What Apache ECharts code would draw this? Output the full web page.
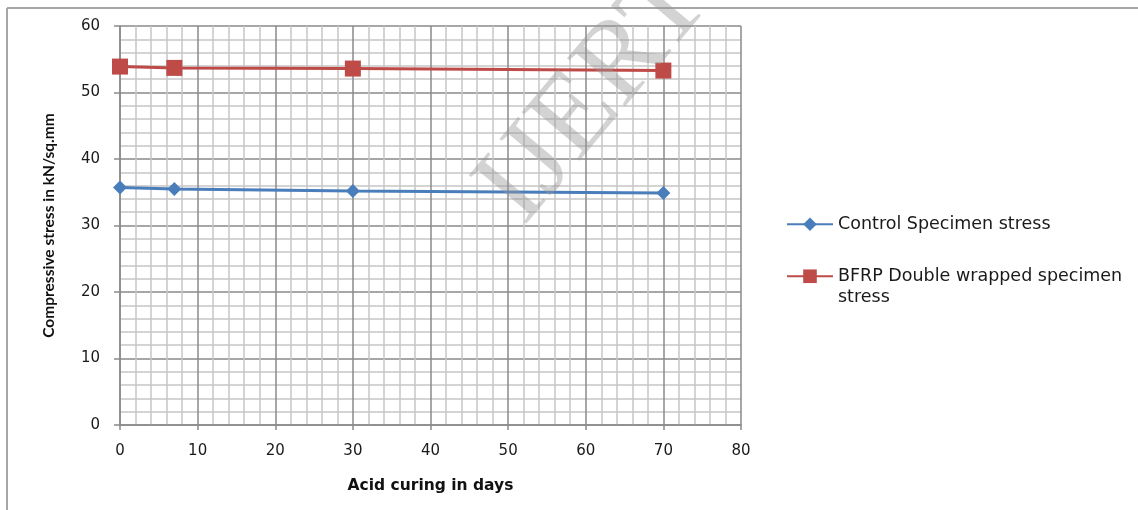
<!DOCTYPE html>
<html>
<head>
<meta charset="utf-8">
<script src="https://cdn.jsdelivr.net/npm/echarts@6/dist/echarts.min.js"></script>
<style>
html,body{margin:0;padding:0;background:#fff;}
#chart{width:1138px;height:510px;}
</style>
</head>
<body>
<div id="chart"></div>
<script>
const xValues = [0, 7, 30, 70];
const controlStress = [35.7, 35.5, 35.2, 34.9];
const bfrpStress = [53.9, 53.7, 53.6, 53.3];
const seriesNames = ['Control Specimen stress', 'BFRP Double wrapped specimen stress'];
const xTitle = 'Acid curing in days';
const yTitle = 'Compressive stress in kN/sq.mm';

const chart = echarts.init(document.getElementById('chart'), null, {renderer: 'canvas'});

function pairs(vals) { return xValues.map((x, i) => [x, vals[i]]); }

const axisCommon = {
  type: 'value',
  interval: 10,
  axisLine: {show: true, lineStyle: {color: '#8a8a8a', width: 1.5}},
  axisTick: {show: true, lineStyle: {color: '#8a8a8a', width: 1.5}},
  splitLine: {show: true, lineStyle: {color: '#8a8a8a', width: 1.5}},
  minorTick: {show: false, splitNumber: 5},
  minorSplitLine: {show: true, lineStyle: {color: '#c6c6c6', width: 1.5}},
  axisLabel: {fontFamily: 'DejaVu Sans', fontSize: 15, color: '#1a1a1a'}
};

const option = {
  backgroundColor: '#fff',
  animation: false,
  grid: {left: 120, top: 26, width: 621, height: 399, containLabel: false},
  xAxis: Object.assign({}, axisCommon, {
    min: 0, max: 80,
    axisTick: {show: true, length: 5, lineStyle: {color: '#8a8a8a', width: 1.5}},
    axisLabel: Object.assign({}, axisCommon.axisLabel, {margin: 19}),
    name: xTitle, nameLocation: 'middle', nameGap: 53,
    nameTextStyle: {fontFamily: 'DejaVu Sans', fontWeight: 'bold', fontSize: 15.5, color: '#111'}
  }),
  yAxis: Object.assign({}, axisCommon, {
    min: 0, max: 60,
    axisTick: {show: true, length: 6, lineStyle: {color: '#8a8a8a', width: 1.5}},
    axisLabel: Object.assign({}, axisCommon.axisLabel, {margin: 20}),
    name: yTitle, nameLocation: 'middle', nameGap: 63, nameRotate: 90,
    nameTextStyle: {fontFamily: 'Lato', fontWeight: 'bold', fontSize: 15.5, color: '#111'}
  }),
  legend: {
    orient: 'vertical',
    left: 786, top: 213.5, padding: 0,
    itemWidth: 46, itemHeight: 17, itemGap: 9,
    textStyle: {fontFamily: 'DejaVu Sans', fontSize: 17.5, color: '#1a1a1a', lineHeight: 21.5},
    formatter: function (name) {
      if (name === seriesNames[1]) return '\nBFRP Double wrapped specimen\nstress';
      return name;
    },
    data: seriesNames
  },
  series: [
    {
      name: seriesNames[0], type: 'line', data: pairs(controlStress),
      symbol: 'diamond', symbolSize: 14,
      itemStyle: {color: '#4A7EBB'}, lineStyle: {color: '#4A7EBB', width: 3}, z: 3
    },
    {
      name: seriesNames[1], type: 'line', data: pairs(bfrpStress),
      symbol: 'rect', symbolSize: 16,
      itemStyle: {color: '#BE4B48'}, lineStyle: {color: '#BE4B48', width: 3}, z: 3
    }
  ],
  graphic: [
    {type: 'line', shape: {x1: 7, y1: 8, x2: 7, y2: 510}, style: {stroke: '#a6a6a6', lineWidth: 2}},
    {type: 'line', shape: {x1: 7, y1: 8, x2: 1138, y2: 8}, style: {stroke: '#a6a6a6', lineWidth: 2}},
    {type: 'text', x: 595, y: 95, rotation: 50 * Math.PI / 180, z: 100,
      style: {text: 'IJERT', font: '115px "Liberation Serif"', fill: 'rgba(150,150,150,0.42)',
        textAlign: 'center', textVerticalAlign: 'middle'}}
  ]
};
chart.setOption(option);
</script>
</body>
</html>
